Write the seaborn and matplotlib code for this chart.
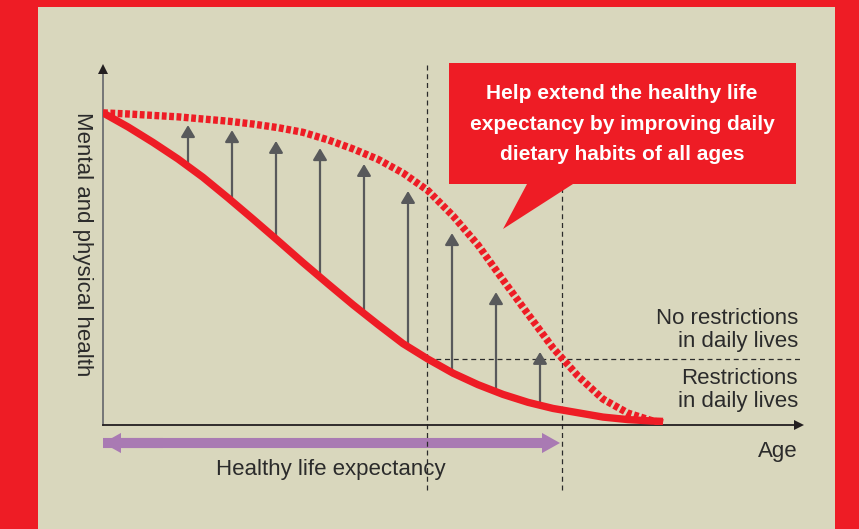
import numpy as np
import pandas as pd
import seaborn as sns
import matplotlib.pyplot as plt
from matplotlib.patches import Rectangle, Polygon

# health over age (age axis 0-140, health axis 0-100)
age_now = [0, 5, 10, 15, 20, 25, 30, 35, 40, 45, 50, 55, 60, 65, 70, 75, 80, 85, 90, 95,
           100, 105, 110, 112]
health_now = [86.7, 82.8, 78.5, 73.9, 68.8, 63.1, 57.2, 51.2, 45.1, 39.2, 33.4, 27.9, 22.6,
              18.3, 14.4, 11.2, 8.5, 6.3, 4.6, 3.4, 2.2, 1.5, 1.1, 1.0]

age_better = [0, 5, 10, 15, 20, 25, 30, 35, 40, 45, 50, 55, 60, 65, 70, 75, 80, 85, 90, 95,
              100, 105, 110, 112]
health_better = [86.7, 86.4, 86.0, 85.6, 85.0, 84.4, 83.6, 82.6, 81.3, 79.2, 76.7, 73.8, 70.0,
                 65.1, 58.1, 50.0, 40.3, 30.8, 21.4, 13.6, 7.2, 3.3, 1.1, 0.6]

# improvement arrows
arrow_age = [17.0, 25.8, 34.6, 43.4, 52.2, 61.0, 69.8, 78.6, 87.4]
arrow_from = [72.8, 63.1, 52.2, 41.7, 31.1, 21.4, 14.4, 9.2, 5.3]
arrow_to = [83.3, 81.9, 78.9, 76.9, 72.5, 65.0, 53.3, 36.9, 20.3]

limit_ages = [64.8, 91.8]       # where each curve crosses the restriction line
restriction_level = 18.3
healthy_span = (0.0, 91.4)

callout = "Help extend the healthy life\nexpectancy by improving daily\ndietary habits of all ages"
y_label = "Mental and physical health"
x_label = "Age"
upper_label = "No restrictions\nin daily lives"
lower_label = "Restrictions\nin daily lives"
span_label = "Healthy life expectancy"

RED = '#ee1c25'
BEIGE = '#d9d7bd'
GREY = '#58595b'
INK = '#2b2b2b'
PURPLE = '#a97ab3'

plt.rcParams['font.family'] = ['Liberation Sans', 'DejaVu Sans']

W, H = 859, 529
fig = plt.figure(figsize=(W / 100, H / 100), dpi=100, facecolor=RED)

# background panel (pixel coords)
bg = fig.add_axes([0, 0, 1, 1])
bg.set_xlim(0, W)
bg.set_ylim(H, 0)
bg.axis('off')
bg.add_patch(Rectangle((38, 7), 797, 530, color=BEIGE, lw=0))

# chart area
ax = fig.add_axes([103 / W, (H - 425) / H, 700 / W, 360 / H])
ax.set_xlim(0, 140)
ax.set_ylim(0, 100)
ax.axis('off')

# axes with arrow heads
ax.plot([0, 0], [0, 98.5], color='#6d6e71', lw=1.3, clip_on=False, zorder=3)
ax.plot([0], [99.0], marker='^', ms=6.5, mew=0, color='#231f20', clip_on=False, zorder=3)
ax.plot([0, 139], [0, 0], color='#231f20', lw=1.3, clip_on=False, zorder=3)
ax.plot([139.2], [0], marker='>', ms=6.5, mew=0, color='#231f20', clip_on=False, zorder=3)

# guide lines
ax.vlines(limit_ages, -18, 100.6, colors=INK, lw=0.9, linestyles=(0, (4, 3)), clip_on=False)
ax.hlines(restriction_level, limit_ages[0], 139.4, colors=INK, lw=0.9,
          linestyles=(0, (4, 3)), clip_on=False)

# improvement arrows
for a, b, t in zip(arrow_age, arrow_from, arrow_to):
    ax.annotate('', xy=(a, t), xytext=(a, b),
                arrowprops=dict(arrowstyle='-|>,head_length=0.7,head_width=0.42', color=GREY,
                                lw=1.6, shrinkA=0, shrinkB=0, mutation_scale=10))

# curves
now = pd.DataFrame({'age': age_now, 'health': health_now})
better = pd.DataFrame({'age': age_better, 'health': health_better})
sns.lineplot(data=now, x='age', y='health', ax=ax, sort=False, color=RED, linewidth=5.3,
             solid_capstyle='butt', solid_joinstyle='round', zorder=4)
sns.lineplot(data=better, x='age', y='health', ax=ax, sort=False, color=RED, linewidth=5.3,
             linestyle=(0, (0.65, 0.35)), dash_capstyle='butt', zorder=4)
ax.set_xlabel('')
ax.set_ylabel('')

# healthy life expectancy double arrow
ax.arrow(healthy_span[0], -5.0, healthy_span[1] - healthy_span[0], 0, width=2.8,
         head_width=5.6, head_length=3.6, length_includes_head=True, color=PURPLE, lw=0,
         clip_on=False)
ax.arrow(healthy_span[0] + 12, -5.0, -12, 0, width=2.8, head_width=5.6, head_length=3.6,
         length_includes_head=True, color=PURPLE, lw=0, clip_on=False)

# overlay: callout and labels (pixel coords)
top = fig.add_axes([0, 0, 1, 1])
top.set_xlim(0, W)
top.set_ylim(H, 0)
top.axis('off')
top.add_patch(Polygon([(449, 63), (796, 63), (796, 184), (573, 184), (503, 229),
                       (527, 184), (449, 184)], closed=True, color=RED, lw=0))
top.text(622, 124, callout, color='white', fontsize=15, fontweight='bold',
         ha='center', va='center', linespacing=1.75)
top.text(82, 244, y_label, color=INK, fontsize=16, rotation=270, ha='center', va='center')
top.text(798, 330, upper_label, color=INK, fontsize=16, ha='right', va='center',
         linespacing=1.15)
top.text(798, 390, lower_label, color=INK, fontsize=16, ha='right', va='center',
         linespacing=1.15)
top.text(798, 452, x_label, color=INK, fontsize=16, ha='right', va='center')
top.text(331, 470, span_label, color=INK, fontsize=16, ha='center', va='center')

fig.savefig('out.png', dpi=100, facecolor=RED)
